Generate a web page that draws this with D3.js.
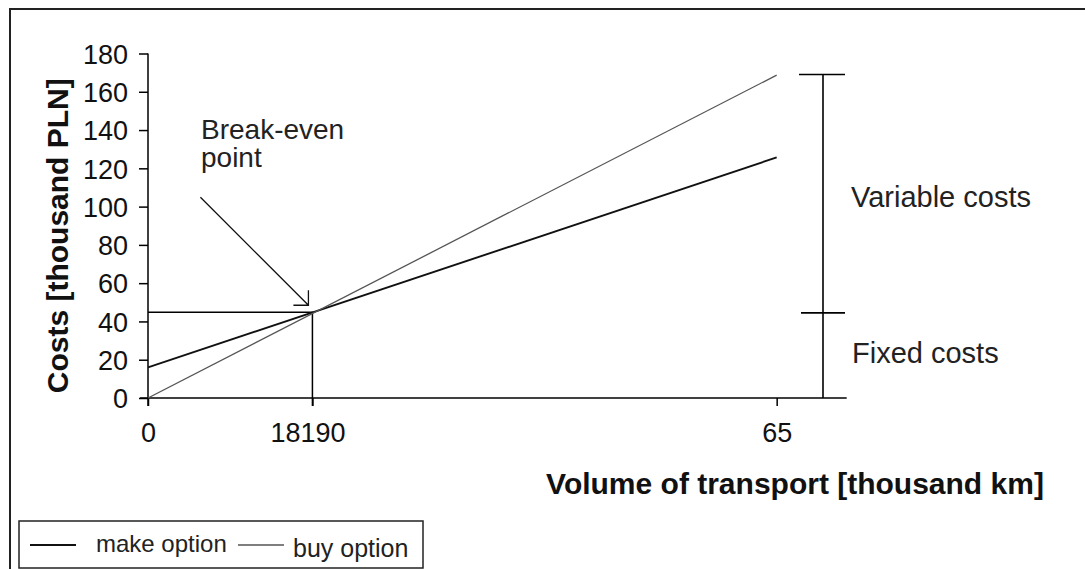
<!DOCTYPE html>
<html>
<head>
<meta charset="utf-8">
<script src="https://cdn.jsdelivr.net/npm/d3@7"></script>
<style>
  html, body { margin: 0; padding: 0; background: #fff; overflow: hidden; }
  svg { display: block; font-family: "Liberation Sans", Arial, sans-serif; }
</style>
</head>
<body>
<svg id="chart" width="1085" height="569"></svg>
<script>
// volume in thousand km, costs in thousand PLN
const volume = [0, 65];
const makeCost = [16, 125.7];
const buyCost = [0, 168.7];
const seriesNames = ["make option", "buy option"];

const yTicks = [0, 20, 40, 60, 80, 100, 120, 140, 160, 180];
const xTickValues = [0, 17, 65];
const xTickLabels = ["0", "18190", "65"];

const breakEven = [17, 44.8];
const bracketLevels = [0, 44.5, 169];
const bracketLabels = ["Fixed costs", "Variable costs"];

const svg = d3.select("#chart");

// outer frame (runs off the right and bottom edge)
svg.append("rect")
  .attr("x", 10).attr("y", 9).attr("width", 1100).attr("height", 600)
  .attr("fill", "none").attr("stroke", "#222").attr("stroke-width", 2);

const x = d3.scaleLinear().domain([0, 72.24]).range([148, 846.7]);
const y = d3.scaleLinear().domain([0, 180]).range([398, 53.5]);

// y axis
const yAxis = svg.append("g")
  .attr("transform", `translate(${x(0)},0)`)
  .call(d3.axisLeft(y).tickValues(yTicks).tickSize(9).tickSizeOuter(0).tickPadding(11));
yAxis.select(".domain").remove();
yAxis.selectAll("line").attr("stroke", "#000").attr("stroke-width", 1.5);
yAxis.selectAll("text")
  .attr("font-size", 27).attr("font-family", "Liberation Sans, Arial, sans-serif")
  .attr("fill", "#111").attr("dy", "0.36em");
yAxis.append("line")
  .attr("x1", 0).attr("x2", 0).attr("y1", y(180)).attr("y2", y(0) + 8)
  .attr("stroke", "#000").attr("stroke-width", 1.5);

// x axis
const xAxis = svg.append("g")
  .attr("transform", `translate(0,${y(0)})`)
  .call(d3.axisBottom(x).tickValues(xTickValues).tickFormat((d, i) => xTickLabels[i])
    .tickSize(8).tickSizeOuter(0).tickPadding(17));
xAxis.select(".domain").remove();
xAxis.selectAll("line").attr("stroke", "#000").attr("stroke-width", 1.5);
xAxis.selectAll("text")
  .attr("font-size", 27).attr("font-family", "Liberation Sans, Arial, sans-serif")
  .attr("fill", "#111").attr("dy", "0.72em")
  .attr("dx", (d, i) => i === 1 ? -5 : 0);
xAxis.append("line")
  .attr("x1", x(0) - 8).attr("x2", x.range()[1]).attr("y1", 0).attr("y2", 0)
  .attr("stroke", "#000").attr("stroke-width", 1.5);

// axis titles
svg.append("text")
  .attr("transform", `translate(68,${(y(180) + y(0)) / 2 + 10}) rotate(-90)`)
  .attr("text-anchor", "middle").attr("font-size", 30).attr("font-weight", "bold")
  .attr("fill", "#111")
  .text("Costs [thousand PLN]");
svg.append("text")
  .attr("x", 795).attr("y", 494)
  .attr("text-anchor", "middle").attr("font-size", 30).attr("font-weight", "bold")
  .attr("fill", "#111")
  .text("Volume of transport [thousand km]");

// break-even guide lines
const bx = x(breakEven[0]), by = y(breakEven[1]);
svg.append("path")
  .attr("d", `M${x(0)},${by}H${bx}V${y(0) + 8}`)
  .attr("fill", "none").attr("stroke", "#000").attr("stroke-width", 1.5);

// cost lines
const line = d3.line().x(d => x(d[0])).y(d => y(d[1]));
const series = [
  { name: seriesNames[0], values: d3.zip(volume, makeCost), color: "#111", width: 1.9 },
  { name: seriesNames[1], values: d3.zip(volume, buyCost), color: "#555", width: 1.3 }
];
svg.selectAll(".cost-line")
  .data(series)
  .enter().append("path")
  .attr("class", "cost-line")
  .attr("d", d => line(d.values))
  .attr("fill", "none")
  .attr("stroke", d => d.color)
  .attr("stroke-width", d => d.width);

// break-even annotation with arrow
const tipX = bx - 4, tipY = by - 7;
svg.append("path")
  .attr("d", `M${tipX - 108},${tipY - 108}L${tipX},${tipY}M${tipX - 15},${tipY}H${tipX}V${tipY - 15}`)
  .attr("fill", "none").attr("stroke", "#111").attr("stroke-width", 1.3);
const beText = svg.append("text")
  .attr("x", 201).attr("y", 139).attr("font-size", 28).attr("fill", "#222");
beText.append("tspan").attr("x", 201).text("Break-even");
beText.append("tspan").attr("x", 201).attr("dy", 28).text("point");

// fixed / variable cost bracket
const bracketX = 823;
svg.append("line")
  .attr("x1", bracketX).attr("x2", bracketX)
  .attr("y1", y(bracketLevels[2])).attr("y2", y(bracketLevels[0]))
  .attr("stroke", "#000").attr("stroke-width", 1.6);
svg.selectAll(".cap")
  .data(bracketLevels.slice(1))
  .enter().append("line")
  .attr("class", "cap")
  .attr("x1", (d, i) => i === 1 ? bracketX - 24 : bracketX - 22).attr("x2", bracketX + 22)
  .attr("y1", d => y(d)).attr("y2", d => y(d))
  .attr("stroke", "#000").attr("stroke-width", 1.6);
svg.append("text")
  .attr("x", 852).attr("y", 363).attr("font-size", 29).attr("fill", "#222")
  .text(bracketLabels[0]);
svg.append("text")
  .attr("x", 851).attr("y", 207).attr("font-size", 29).attr("fill", "#222")
  .text(bracketLabels[1]);

// legend
const legend = svg.append("g");
legend.append("rect")
  .attr("x", 19).attr("y", 521).attr("width", 404).attr("height", 47)
  .attr("fill", "#fff").attr("stroke", "#222").attr("stroke-width", 1.5);
const legendPos = [{ lx: 30, tx: 96, ty: 552 }, { lx: 238, tx: 293, ty: 557 }];
const items = legend.selectAll(".item")
  .data(series)
  .enter().append("g")
  .attr("class", "item");
items.append("line")
  .attr("x1", (d, i) => legendPos[i].lx).attr("x2", (d, i) => legendPos[i].lx + 46)
  .attr("y1", 545).attr("y2", 545)
  .attr("stroke", d => d.color).attr("stroke-width", d => d.width);
items.append("text")
  .attr("x", (d, i) => legendPos[i].tx).attr("y", (d, i) => legendPos[i].ty)
  .attr("font-size", (d, i) => i === 1 ? 25 : 24).attr("fill", "#222")
  .text(d => d.name);
</script>
</body>
</html>
